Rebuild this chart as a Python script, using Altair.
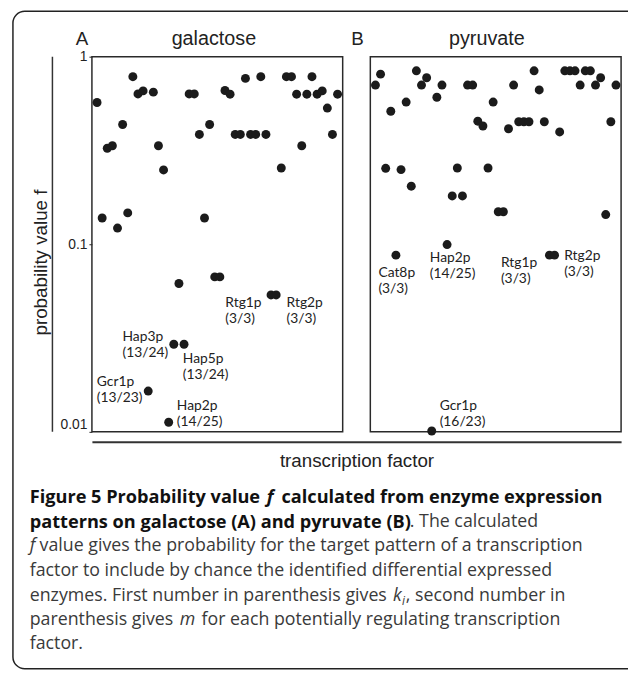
import altair as alt
import pandas as pd

# ---------------- data ----------------
galactose_f = [0.570, 0.138, 0.325, 0.335, 0.122, 0.435, 0.147, 0.782, 0.633, 0.657,
               0.0165, 0.647, 0.335, 0.249, 0.01125, 0.0293, 0.0618, 0.0293, 0.633, 0.633,
               0.385, 0.138, 0.435, 0.067, 0.067, 0.660, 0.631, 0.385, 0.385, 0.766,
               0.385, 0.385, 0.782, 0.385, 0.0537, 0.0537, 0.255, 0.782, 0.782, 0.631,
               0.335, 0.631, 0.782, 0.631, 0.657, 0.532, 0.385, 0.631]
pyruvate_f = [0.706, 0.807, 0.254, 0.512, 0.0875, 0.250, 0.573, 0.204, 0.841, 0.706,
              0.772, 0.0101, 0.608, 0.706, 0.0996, 0.181, 0.255, 0.181, 0.706, 0.706,
              0.453, 0.427, 0.255, 0.573, 0.149, 0.149, 0.413, 0.706, 0.450, 0.450,
              0.450, 0.841, 0.665, 0.450, 0.0875, 0.0875, 0.397, 0.841, 0.841, 0.841,
              0.706, 0.841, 0.841, 0.706, 0.772, 0.144, 0.450, 0.706]

gal_names = ["Gcr1p", "Hap3p", "Hap5p", "Hap2p", "Rtg1p", "Rtg2p"]
gal_counts = ["(13/23)", "(13/24)", "(13/24)", "(14/25)", "(3/3)", "(3/3)"]
gal_lab_x = [-0.04, 4.98, 16.76, 15.6, 25.06, 37.03]
gal_lab_f = [0.01833, 0.0320, 0.0245, 0.0137, 0.0483, 0.0483]

pyr_names = ["Cat8p", "Hap2p", "Gcr1p", "Rtg1p", "Rtg2p"]
pyr_counts = ["(3/3)", "(14/25)", "(16/23)", "(3/3)", "(3/3)"]
pyr_lab_x = [0.58, 10.62, 12.55, 24.52, 36.87]
pyr_lab_f = [0.0704, 0.0844, 0.0137, 0.0794, 0.0865]

panel_titles = ["A", "galactose", "B", "pyruvate"]
y_ticks = [0.01, 0.1, 1]

# ---------------- layout ----------------
W, H = 536, 380
OX, OY = 93, 53          # page position of plot origin
UNIT = 254 / 49
GAP = 28 / UNIT
B_OFF = 49 + GAP
XMIN, XMAX = -1, 48 + B_OFF

pts = pd.DataFrame({
    "x": list(range(len(galactose_f))) + [i + B_OFF for i in range(len(pyruvate_f))],
    "f": galactose_f + pyruvate_f,
})
ann = pd.DataFrame({
    "x": gal_lab_x + [v + B_OFF for v in pyr_lab_x],
    "f": gal_lab_f + pyr_lab_f,
    "name": gal_names + pyr_names,
    "count": gal_counts + pyr_counts,
})
frames = pd.DataFrame({
    "x": [XMIN, XMIN + B_OFF], "x1": [48, 48 + B_OFF],
    "f": [0.01, 0.01], "f1": [1, 1],
})
titles = pd.DataFrame({
    "label": panel_titles,
    "x": [-2.93, 22.83, 50.89, 76.17],
    "size": [19, 20, 19, 20],
})

xs = alt.Scale(domain=[XMIN, XMAX], nice=False, zero=False)
ys = alt.Scale(type="log", domain=[0.01, 1], nice=False)

x_axis = alt.Axis(title="transcription factor", domain=True, ticks=False, labels=False,
                  grid=False, offset=10, domainColor="#333", domainWidth=2,
                  titleFont="Liberation Sans", titleFontSize=19, titleFontWeight="normal",
                  titlePadding=10, titleColor="#222")
y_axis = alt.Axis(values=y_ticks, format="~g", title="probability value f", domain=False,
                  grid=False, ticks=True, tickSize=3, tickColor="#222", tickWidth=1,
                  labelFont="Liberation Sans", labelFontSize=14, labelColor="#222",
                  labelPadding=2,
                  labelBaseline={"condition": {"test": "datum.value < 0.02", "value": "bottom"},
                                 "value": "middle"},
                  titleFont="Liberation Sans", titleFontSize=19, titleFontWeight="normal",
                  titleColor="#222", titleX=-52, titleY=208, titleAngle=270,
                  titleBaseline="middle", titleAlign="center")

X = alt.X("x:Q", scale=xs, axis=x_axis)
Y = alt.Y("f:Q", scale=ys, axis=y_axis)

frame_layer = alt.Chart(frames).mark_rect(fillOpacity=0, stroke="#2a2a2a", strokeWidth=1.5).encode(
    x=X, x2="x1", y=Y, y2="f1")

dots = alt.Chart(pts).mark_circle(size=82, color="#1b1b1b", opacity=1).encode(x=X, y=Y)

ann_name = alt.Chart(ann).mark_text(align="left", baseline="middle", font="Lato",
                                    fontSize=14, color="#222").encode(x=X, y=Y, text="name:N")
ann_count = alt.Chart(ann).mark_text(align="left", baseline="middle", font="Lato",
                                     fontSize=14, color="#222", dy=16).encode(
    x=X, y=Y, text="count:N")

title_layer = alt.Chart(titles).mark_text(align="center", baseline="middle",
                                          font="Liberation Sans", color="#222").encode(
    x=X, y=alt.value(35 - OY), text="label:N",
    size=alt.Size("size:Q", scale=None, legend=None))

one = alt.Data(values=[{"t": ""}])
vline = alt.Chart(one).mark_rule(color="#333", strokeWidth=1.5).encode(
    x=alt.value(53 - OX), y=alt.value(0), y2=alt.value(H))
border = alt.Chart(one).mark_rect(fillOpacity=0, stroke="#222", strokeWidth=1.5,
                                  cornerRadius=12).encode(
    x=alt.value(13 - OX), x2=alt.value(660 - OX), y=alt.value(7 - OY), y2=alt.value(673 - OY))

CAPFONT = "Open Sans"


def cap(text, x, y, weight="normal", style="normal", size=18, color="#3a3a3a"):
    return alt.Chart(alt.Data(values=[{"t": text}])).mark_text(
        align="left", baseline="middle", font=CAPFONT, fontSize=size,
        fontWeight=weight, fontStyle=style, color=color).encode(
        x=alt.value(x - OX), y=alt.value(y - OY), text="t:N")


B = "#111"
BS = 18.4
caption = [
    cap("Figure 5 Probability value", 30, 499, "bold", size=BS, color=B),
    cap("f", 270, 499, "bold", "italic", size=BS, color=B),
    cap("calculated from enzyme expression", 285, 499, "bold", size=BS, color=B),
    cap("patterns on galactose (A) and pyruvate (B)", 30, 524, "bold", size=BS, color=B),
    cap(". The calculated", 415, 524),
    cap("f", 30, 549, style="italic"),
    cap("value gives the probability for the target pattern of a transcription", 40, 549),
    cap("factor to include by chance the identified differential expressed", 30, 574),
    cap("enzymes. First number in parenthesis gives", 30, 599),
    cap("k", 398, 599, style="italic"),
    cap("i", 407, 604, style="italic", size=12),
    cap(", second number in", 411, 599),
    cap("parenthesis gives", 30, 624),
    cap("m", 182, 624, style="italic"),
    cap("for each potentially regulating transcription", 204, 624),
    cap("factor.", 30, 648),
]

chart = alt.layer(frame_layer, dots, ann_name, ann_count, title_layer, vline, border,
                  *caption).properties(
    width=W, height=H,
    autosize=alt.AutoSizeParams(type="none"),
    padding={"left": OX - 8, "top": OY - 8, "right": 7, "bottom": 668 - (OY - 8) - H},
    background="white",
).configure_view(strokeWidth=0)

chart.save("out.html", embed_options={"renderer": "svg", "actions": False})
